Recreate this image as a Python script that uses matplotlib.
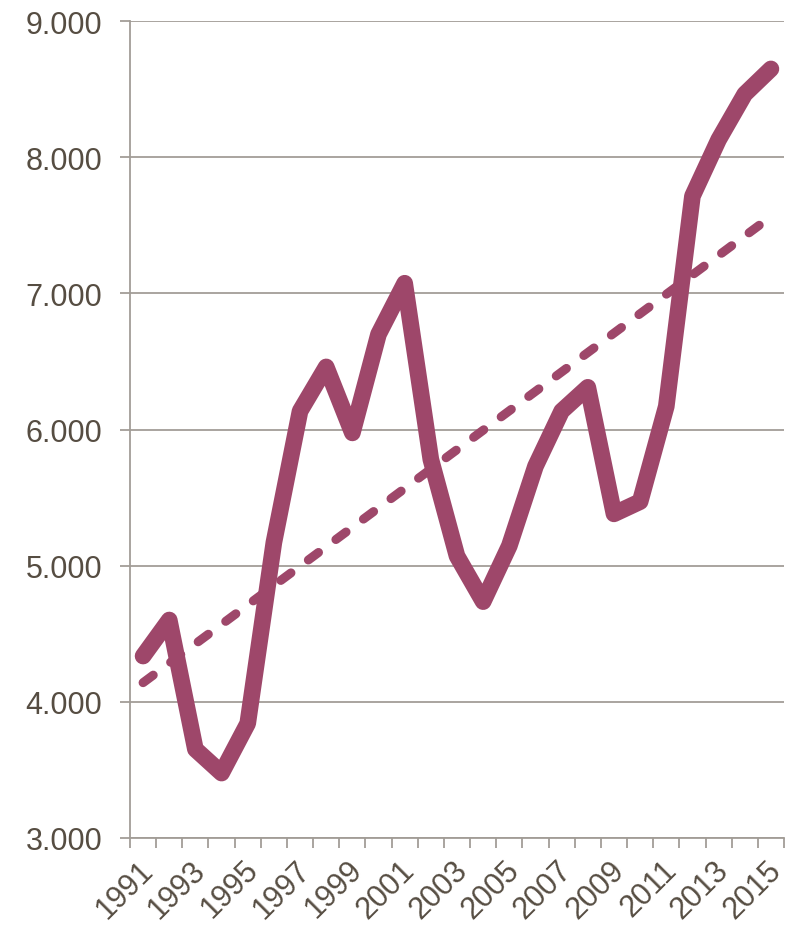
import numpy as np
import matplotlib
matplotlib.use("Agg")
import matplotlib.pyplot as plt
import matplotlib.transforms as mtransforms
from matplotlib.ticker import FuncFormatter, FixedLocator

years = list(range(1991, 2016))
values = [4335, 4600, 3650, 3475, 3840, 5170, 6135, 6460, 5975, 6700,
          7075, 5780, 5070, 4735, 5145, 5730, 6135, 6310, 5380, 5470,
          6170, 7715, 8130, 8465, 8650]
y_ticks = [3000, 4000, 5000, 6000, 7000, 8000, 9000]
x_labels = [str(y) for y in years[::2]]

line_color = "#9E476A"
grid_color = "#A29D97"
text_color = "#564D42"

plt.rcParams["font.family"] = ["Liberation Sans", "DejaVu Sans"]

fig = plt.figure(figsize=(7.9, 9.29), dpi=100)
ax = fig.add_axes([130 / 790, 1 - 838.7 / 929, (784 - 130) / 790, (838.7 - 22.3) / 929])

x = np.arange(len(years))

# linear trend of the series
slope, intercept = np.polyfit(x, values, 1)
trend = slope * x + intercept
ax.plot(x, trend, color=line_color, lw=6.5, linestyle=(0, (1.4, 2.4)),
        dash_capstyle="round", solid_capstyle="round", zorder=3)

ax.plot(x, values, color=line_color, lw=12, solid_capstyle="round",
        solid_joinstyle="round", zorder=4)

ax.set_xlim(-0.5, len(years) - 0.5)
ax.set_ylim(3000, 9000)

ax.yaxis.set_major_locator(FixedLocator(y_ticks))
ax.yaxis.set_major_formatter(FuncFormatter(lambda v, p: f"{int(v):,}".replace(",", ".")))
ax.grid(axis="y", color=grid_color, lw=1.3, zorder=1)
ax.set_axisbelow(True)

ax.set_xticks(x[::2])
ax.set_xticklabels(x_labels, rotation=45, ha="right", va="top", rotation_mode="anchor")
ax.set_xticks(np.arange(-0.5, len(years)), minor=True)
ax.tick_params(axis="x", which="major", length=0, pad=12, labelsize=22, labelcolor=text_color)
ax.tick_params(axis="x", which="minor", length=7, width=1.3, color=grid_color)
ax.tick_params(axis="y", length=7, width=1.3, color=grid_color, pad=13,
               labelsize=22, labelcolor=text_color)

# nudge the slanted year labels a little to the left
shift = mtransforms.ScaledTranslation(-5 / 100, 0, fig.dpi_scale_trans)
for lbl in ax.get_xticklabels():
    lbl.set_transform(lbl.get_transform() + shift)

for side in ("top", "right"):
    ax.spines[side].set_visible(False)
for side in ("left", "bottom"):
    ax.spines[side].set_color(grid_color)
    ax.spines[side].set_linewidth(1.3)

fig.savefig("out.png", dpi=100)
